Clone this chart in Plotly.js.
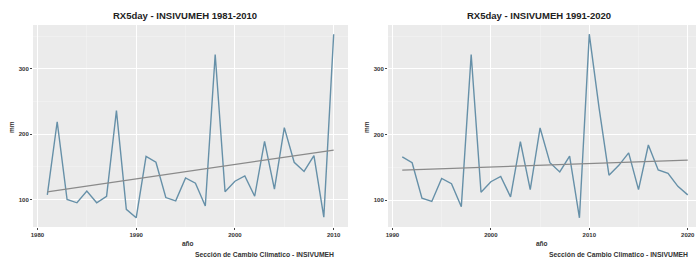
<!DOCTYPE html>
<html><head><meta charset="utf-8">
<script src="https://cdn.plot.ly/plotly-3.0.1.min.js"></script>
<style>html,body{margin:0;padding:0;overflow:hidden;background:#fff}#chart{width:710px;height:261px}</style>
</head><body><div id="chart"></div>
<script>
const years1 = [1981,1982,1983,1984,1985,1986,1987,1988,1989,1990,1991,1992,1993,1994,1995,1996,1997,1998,1999,2000,2001,2002,2003,2004,2005,2006,2007,2008,2009,2010];
const rx5_1 = [107,219,100,95,113,95,105,236,85,72,166,157,103,98,133,125,90,322,112,128,136,105,189,116,210,157,143,167,73,353];
const years2 = [1991,1992,1993,1994,1995,1996,1997,1998,1999,2000,2001,2002,2003,2004,2005,2006,2007,2008,2009,2010,2011,2012,2013,2014,2015,2016,2017,2018,2019,2020];
const rx5_2 = [166,157,103,98,133,125,90,322,112,128,136,105,189,116,210,157,143,167,73,353,240,138,153,172,116,184,146,141,121,108];
const titles = ["RX5day - INSIVUMEH 1981-2010", "RX5day - INSIVUMEH 1991-2020"];
const xTicks1 = [1980, 1990, 2000, 2010];
const xTicks2 = [1990, 2000, 2010, 2020];
const yTicks = [100, 200, 300];
const caption = "Sección de Cambio Climatico - INSIVUMEH";
const xTitle = "año";
const yTitle = "mm";

const W = 710, H = 261;
const FONT = "Liberation Sans, Arial, sans-serif";
const px = v => v / W;
const py = v => 1 - v / H;

function fit(x, y) {
  const n = x.length;
  const mx = x.reduce((a, b) => a + b, 0) / n;
  const my = y.reduce((a, b) => a + b, 0) / n;
  let sxy = 0, sxx = 0;
  for (let i = 0; i < n; i++) { sxy += (x[i] - mx) * (y[i] - my); sxx += (x[i] - mx) ** 2; }
  const b = sxy / sxx, a = my - b * mx;
  return [a + b * x[0], a + b * x[n - 1]];
}
function expand(arr) {
  const mn = Math.min(...arr), mx = Math.max(...arr), d = (mx - mn) * 0.05;
  return [mn - d, mx + d];
}

const lineColor = "#6690a8";
const trendColor = "#8a8a8a";
const f1 = fit(years1, rx5_1), f2 = fit(years2, rx5_2);
const traces = [
  {x: years1, y: rx5_1, type: "scatter", mode: "lines", line: {color: lineColor, width: 1.4}, xaxis: "x", yaxis: "y", hoverinfo: "skip"},
  {x: [years1[0], years1[years1.length - 1]], y: f1, type: "scatter", mode: "lines", line: {color: trendColor, width: 1.3}, xaxis: "x", yaxis: "y", hoverinfo: "skip"},
  {x: years2, y: rx5_2, type: "scatter", mode: "lines", line: {color: lineColor, width: 1.4}, xaxis: "x2", yaxis: "y2", hoverinfo: "skip"},
  {x: [years2[0], years2[years2.length - 1]], y: f2, type: "scatter", mode: "lines", line: {color: trendColor, width: 1.3}, xaxis: "x2", yaxis: "y2", hoverinfo: "skip"}
];

const tickFont = {family: FONT, size: 6, color: "#333", weight: "bold"};
function xax(dom, ticks, yrs) {
  return {domain: dom, range: expand(yrs), tickvals: ticks, ticktext: ticks.map(String), showgrid: true, gridcolor: "#ffffff", gridwidth: 1,
    minor: {dtick: 5, showgrid: true, gridcolor: "#f5f5f5", gridwidth: 0.5, tick0: 1975},
    zeroline: false, ticks: "outside", ticklen: 2, tickcolor: "#444", tickfont: tickFont, showline: false, fixedrange: true};
}
function yax(vals, anchor) {
  return {domain: [py(227), py(25)], range: expand(vals), tickvals: yTicks, ticktext: yTicks.map(String), showgrid: true, gridcolor: "#ffffff", gridwidth: 1,
    minor: {dtick: 50, tick0: 0, showgrid: true, gridcolor: "#f5f5f5", gridwidth: 0.5},
    zeroline: false, ticks: "outside", ticklen: 2, tickcolor: "#444", tickfont: tickFont, anchor: anchor, fixedrange: true};
}

const ann = [];
const panels = [[33, 348], [388, 702]];
panels.forEach((p, i) => {
  const cx = (p[0] + p[1]) / 2 - 6;
  ann.push({text: "<b>" + titles[i] + "</b>", x: px(cx), y: py(15), xref: "paper", yref: "paper", showarrow: false, xanchor: "center", yanchor: "middle", font: {family: FONT, size: 9.5, color: "#222"}});
  ann.push({text: "<b>" + xTitle + "</b>", x: px((p[0] + p[1]) / 2 - 3), y: py(243), xref: "paper", yref: "paper", showarrow: false, xanchor: "center", yanchor: "middle", font: {family: FONT, size: 6.5, color: "#333"}});
  ann.push({text: "<b>" + yTitle + "</b>", x: px(p[0] - 22), y: py(127), xref: "paper", yref: "paper", showarrow: false, xanchor: "center", yanchor: "middle", textangle: -90, font: {family: FONT, size: 6.5, color: "#333"}});
  ann.push({text: "<b>" + caption + "</b>", x: px(p[1] - 12), y: py(254), xref: "paper", yref: "paper", showarrow: false, xanchor: "right", yanchor: "middle", font: {family: FONT, size: 6.8, color: "#333"}});
});

const layout = {
  width: W, height: H, margin: {l: 0, r: 0, t: 0, b: 0}, showlegend: false,
  paper_bgcolor: "#ffffff", plot_bgcolor: "#ebebeb",
  xaxis: Object.assign(xax([px(33), px(348)], xTicks1, years1), {anchor: "y"}),
  yaxis: yax(rx5_1, "x"),
  xaxis2: Object.assign(xax([px(388), px(702)], xTicks2, years2), {anchor: "y2"}),
  yaxis2: yax(rx5_2, "x2"),
  annotations: ann
};
Plotly.newPlot("chart", traces, layout, {staticPlot: true, displayModeBar: false});
</script></body></html>
